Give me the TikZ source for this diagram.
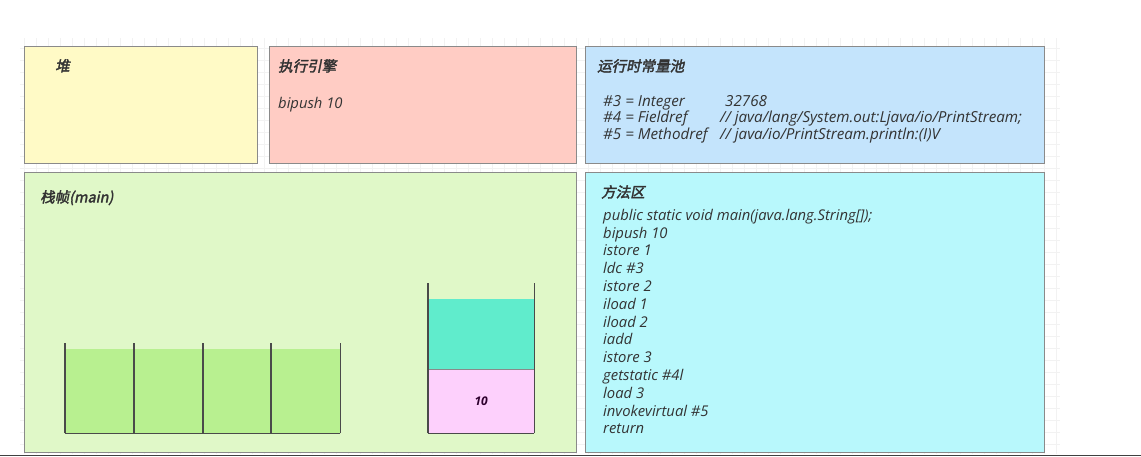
\documentclass[tikz,border=0pt]{standalone}
\usepackage{fontspec}
\setmainfont{Open Sans}
\newfontfamily\cjkfont{Noto Sans CJK SC}[FakeSlant=0.2,FakeBold=2.5]
\usetikzlibrary{positioning}

\definecolor{heapyellow}{HTML}{FFFAC6}
\definecolor{enginered}{HTML}{FFCCC4}
\definecolor{poolblue}{HTML}{C4E4FC}
\definecolor{framegreen}{HTML}{E0F8C8}
\definecolor{methodcyan}{HTML}{B8F8FC}
\definecolor{slotgreen}{HTML}{B8F090}
\definecolor{stackteal}{HTML}{60ECCC}
\definecolor{stackpink}{HTML}{FDD0FC}
\definecolor{boxgray}{HTML}{8A8A8A}
\definecolor{wallgray}{HTML}{4A4A4A}
\definecolor{textgray}{HTML}{333333}

\tikzset{
    % memory area box
    areabox/.style={
        rectangle,
        draw=boxgray,
        line width=0.8pt,
        fill=#1,
        anchor=north west,
        inner sep=0pt
    },
    % area heading
    areatitle/.style={
        font=\cjkfont\fontsize{14.5}{17}\selectfont,
        text=textgray,
        inner sep=0pt
    },
    % bytecode lines
    codetext/.style={
        font=\itshape\fontsize{14.8}{17.8}\selectfont,
        text=textgray,
        inner sep=0pt,
        align=left
    },
    pooltext/.style={
        codetext,
        font=\itshape\fontsize{15.2}{16.6}\selectfont
    },
    % slot filling
    slotfill/.style={
        rectangle,
        fill=#1,
        draw=none,
        anchor=north west,
        inner sep=0pt
    },
    % container wall
    wall/.style={
        draw=wallgray,
        line width=1.6pt
    }
}

\begin{document}
\begin{tikzpicture}[x=1pt, y=-1pt]
    \useasboundingbox (0,0) rectangle (1141,457);
    \draw[black!5, step=12pt] (20,38) grid (1060,454);

    \node[areabox=heapyellow, minimum width=233pt, minimum height=117pt] (heap) at (24,46) {};
    \node[areabox=enginered, minimum width=307pt, minimum height=117pt] (engine) at (269,46) {};
    \node[areabox=poolblue, minimum width=459pt, minimum height=117pt] (pool) at (585,46) {};
    \node[areabox=framegreen, minimum width=552pt, minimum height=280pt] (frame) at (24,172) {};
    \node[areabox=methodcyan, minimum width=459pt, minimum height=280pt] (method) at (585,172) {};

    \node[areatitle, below right=13pt and 31pt of heap.north west] (heap-title) {堆};
    \node[areatitle, below right=13pt and 9pt of engine.north west] (engine-title) {执行引擎};
    \node[areatitle, below right=13pt and 12pt of pool.north west] (pool-title) {运行时常量池};
    \node[areatitle, below right=18pt and 16pt of frame.north west] (frame-title) {栈帧(main)};
    \node[areatitle, below right=13pt and 16pt of method.north west] (method-title) {方法区};

    \node[codetext, below right=24pt and 0pt of engine-title.south west] (engine-code) {bipush 10};
    \node[pooltext, below right=21.5pt and 6pt of pool-title.south west] (pool-code) {%
        \begin{tabular}{@{}p{117pt}@{}l@{}}
            \#3 = Integer & \hspace{5pt}32768\\
            \#4 = Fieldref & // java/lang/System.out:Ljava/io/PrintStream;\\
            \#5 = Methodref & // java/io/PrintStream.println:(I)V
        \end{tabular}};
    \node[codetext, below right=10pt and 2pt of method-title.south west] (method-code) {%
        public static void main(java.lang.String[]);\\
        bipush 10\\
        istore 1\\
        ldc \#3\\
        istore 2\\
        iload 1\\
        iload 2\\
        iadd\\
        istore 3\\
        getstatic \#4l\\
        load 3\\
        invokevirtual \#5\\
        return};

    % local variable table
    \foreach \i/\x in {1/65,2/134,3/203,4/271}
        \node[slotfill=slotgreen, minimum width=69pt, minimum height=84pt] (slot\i) at (\x,349) {};
    \foreach \i in {1,...,4}
        \draw[wall] (slot\i.south west) -- ++(0,-90);
    \draw[wall] (slot4.south east) -- ++(0,-90);
    \draw[wall] (slot1.south west) -- (slot4.south east);

    % operand stack
    \node[slotfill=stackpink, minimum width=106pt, minimum height=64pt, font=\bfseries\itshape\fontsize{12}{14}\selectfont, text=black!65!violet] (stack-bottom) at (428,369) {10};
    \node[slotfill=stackteal, minimum width=106pt, minimum height=70pt, anchor=south west] (stack-top) at (stack-bottom.north west) {};
    \draw[boxgray, line width=0.6pt] (stack-top.south west) -- (stack-top.south east);
    \draw[wall] (stack-bottom.south west) -- ++(0,-150);
    \draw[wall] (stack-bottom.south east) -- ++(0,-150);
    \draw[wall] (stack-bottom.south west) -- (stack-bottom.south east);

    \draw[black!75, line width=1.2pt] (0,455.5) -- (1141,455.5);
\end{tikzpicture}
\end{document}
